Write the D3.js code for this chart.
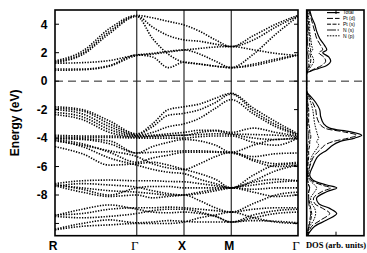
<!DOCTYPE html>
<html><head><meta charset="utf-8">
<script src="https://cdn.jsdelivr.net/npm/d3@7"></script>
<style>body{margin:0;background:#fff}svg{display:block}</style>
</head><body><svg id="c" width="367" height="253"></svg>
<script>
// ---- data ----
const kLabels = ["R", "Γ", "X", "M", "Γ"];
const kNodes = [0, 1.732, 2.732, 3.732, 5.146];
const kGrid = [0, 0.577, 1.155, 1.732, 2.065, 2.399, 2.732, 3.065, 3.399, 3.732, 4.203, 4.675, 5.146];
const energyTicks = [4, 2, 0, -2, -4, -6, -8];

const conductionBands = [
  [1.42, 2.1, 3.7, 4.62, 4.45, 4.2, 3.95, 3.5, 2.9, 2.43, 3.2, 4.0, 4.62],
  [1.36, 1.95, 3.5, 4.58, 3.8, 3.2, 2.9, 2.8, 2.6, 2.43, 2.9, 3.8, 4.58],
  [1.3, 1.85, 3.35, 4.55, 3.0, 1.9, 1.33, 1.2, 1.05, 0.95, 1.9, 3.3, 4.55],
  [1.26, 1.3, 1.45, 1.84, 1.95, 2.1, 2.19, 1.9, 1.4, 0.95, 1.2, 1.55, 1.84],
  [0.86, 0.85, 1.1, 1.84, 1.7, 0.95, 1.33, 1.2, 1.05, 0.95, 1.1, 1.45, 1.84],
  [0.76, 0.8, 1.05, 1.8, 1.9, 2.05, 2.19, 2.3, 2.4, 2.43, 2.2, 1.95, 1.8]
];
const valenceBands = [
  [-1.8, -2.0, -2.8, -3.7, -3.0, -2.0, -1.8, -1.6, -1.2, -0.85, -1.9, -2.85, -3.7],
  [-1.9, -2.1, -3.0, -3.75, -3.2, -2.4, -2.26, -2.0, -1.5, -0.9, -2.1, -3.05, -3.75],
  [-2.0, -2.3, -3.2, -3.8, -3.6, -3.2, -3.0, -2.6, -1.9, -1.3, -2.3, -3.2, -3.8],
  [-2.2, -2.5, -3.4, -3.85, -3.8, -3.7, -3.6, -3.45, -3.45, -3.6, -3.3, -3.6, -3.85],
  [-2.35, -2.7, -3.6, -3.9, -3.85, -3.8, -3.8, -3.6, -3.5, -3.7, -3.75, -3.8, -3.9],
  [-3.8, -3.85, -3.85, -3.95, -3.9, -3.85, -3.8, -3.75, -3.7, -3.75, -4.0, -4.1, -3.95],
  [-3.9, -3.95, -3.95, -4.0, -4.0, -4.0, -4.0, -3.9, -3.85, -3.85, -4.3, -4.5, -4.0],
  [-4.0, -4.05, -4.2, -5.05, -4.6, -4.3, -4.1, -4.2, -4.5, -5.0, -4.5, -4.1, -4.05],
  [-4.05, -4.1, -4.4, -5.05, -5.0, -4.95, -4.9, -4.9, -4.95, -5.0, -5.3, -5.1, -5.05],
  [-4.1, -4.4, -5.0, -5.7, -5.4, -5.2, -5.0, -5.0, -5.0, -5.05, -5.5, -5.8, -5.7],
  [-4.6, -5.1, -5.9, -5.8, -5.7, -5.9, -6.2, -6.5, -6.9, -7.5, -6.6, -5.9, -5.8],
  [-4.15, -4.6, -5.4, -5.9, -6.2, -6.4, -6.5, -6.9, -7.2, -7.5, -7.0, -6.3, -5.9],
  [-4.2, -4.5, -4.9, -5.3, -5.8, -6.1, -6.2, -5.8, -5.3, -5.0, -5.6, -6.0, -5.9],
  [-7.2, -7.0, -6.95, -7.0, -7.0, -7.05, -7.07, -7.2, -7.35, -7.5, -7.1, -6.9, -7.0],
  [-7.25, -7.6, -8.0, -7.5, -7.4, -7.4, -7.5, -7.5, -7.5, -7.5, -7.6, -7.5, -7.5],
  [-7.3, -7.5, -7.7, -7.8, -7.9, -8.0, -8.0, -8.4, -8.9, -9.2, -8.6, -8.0, -7.8],
  [-7.35, -7.8, -8.1, -8.0, -8.2, -8.1, -8.0, -7.8, -7.6, -7.5, -7.8, -8.1, -8.0],
  [-7.4, -7.2, -7.3, -7.45, -7.7, -7.9, -8.0, -7.9, -7.7, -7.5, -7.3, -7.1, -7.0],
  [-9.4, -9.3, -9.0, -8.9, -8.9, -8.85, -8.9, -9.0, -9.1, -9.2, -9.0, -8.9, -8.9],
  [-9.45, -9.0, -8.7, -9.0, -9.2, -9.25, -9.2, -9.3, -9.5, -9.9, -9.4, -9.1, -9.0],
  [-9.5, -9.6, -9.5, -9.3, -9.1, -9.0, -9.0, -9.2, -9.5, -9.9, -9.6, -9.3, -9.2],
  [-10.4, -10.0, -9.75, -9.95, -9.9, -9.8, -9.85, -9.9, -9.9, -9.9, -9.8, -9.85, -9.95],
  [-10.45, -10.2, -10.1, -10.0, -10.0, -10.0, -9.9, -9.6, -9.4, -9.2, -9.6, -9.9, -10.0]
];

const dosE = [5, 4.5, 4, 3.5, 3, 2.5, 2.2, 2, 1.7, 1.4, 1.1, 0.9, 0.7, 0.55, -0.75, -1, -1.5, -2, -2.5, -3, -3.3, -3.55, -3.8, -4, -4.25, -4.5, -4.85, -5.3, -6, -6.6, -6.95, -7.3, -7.5, -7.77, -8.2, -8.6, -8.94, -9.3, -9.76, -10.2, -10.6, -10.85];
const dosTotal = [3, 5, 8, 10, 13, 18, 20, 16, 22, 24, 20, 12, 4, 0, 0, 3, 9, 13, 14, 17, 23, 43, 55, 48, 33, 26, 20, 11, 6, 3, 6, 20, 30, 20, 10, 12, 23, 30, 20, 8, 3, 1];
const dosPtD = [2, 4, 6, 8, 10, 14, 16, 12, 17, 19, 15, 9, 3, 0, 0, 2, 6, 9, 10, 13, 18, 36, 50, 42, 26, 18, 13, 7, 3, 1, 4, 15, 24, 15, 7, 8, 16, 23, 14, 5, 2, 1];
const dosPtS = [1, 1, 2, 2, 3, 3, 4, 3, 4, 4, 3, 2, 1, 0, 0, 1, 1, 2, 2, 2, 3, 3, 4, 4, 3, 3, 2, 2, 1, 1, 1, 2, 3, 2, 2, 3, 4, 5, 4, 2, 1, 0];
const dosNS = [0, 1, 1, 1, 1, 1, 2, 1, 2, 2, 2, 1, 0, 0, 0, 0, 1, 1, 1, 1, 1, 2, 2, 2, 2, 1, 1, 1, 1, 1, 1, 2, 3, 2, 2, 2, 3, 4, 3, 2, 1, 0];
const dosNP = [1, 2, 3, 3, 4, 5, 6, 4, 6, 7, 5, 3, 1, 0, 0, 1, 4, 6, 7, 8, 9, 10, 11, 12, 10, 12, 9, 5, 3, 2, 3, 8, 10, 8, 4, 5, 8, 9, 7, 3, 1, 0];
const dosNames = ["Total", "Pt (d)", "Pt (s)", "N (s)", "N (p)"];

// ---- layout ----
const svg = d3.select("#c");
const P = {l: 55, r: 298, t: 10, b: 235.7};
const D = {l: 306.7, r: 364};
const x = d3.scaleLinear().domain([kNodes[0], kNodes[4]]).range([P.l, P.r]);
const y = d3.scaleLinear().domain([-10.86, 5]).range([P.b, P.t]);
const xd = d3.scaleLinear().domain([0, 57.3]).range([D.l, D.r]);

const defs = svg.append("defs");
defs.append("clipPath").attr("id", "cp").append("rect")
  .attr("x", P.l).attr("y", P.t).attr("width", P.r - P.l).attr("height", P.b - P.t);
defs.append("clipPath").attr("id", "cd").append("rect")
  .attr("x", D.l).attr("y", P.t).attr("width", D.r - D.l).attr("height", P.b - P.t);

// bands
const band = d3.line().x((d, i) => x(kGrid[i])).y(d => y(d)).curve(d3.curveMonotoneX);
const gb = svg.append("g").attr("clip-path", "url(#cp)");
gb.selectAll("path.b").data(conductionBands.concat(valenceBands)).join("path")
  .attr("d", band).attr("fill", "none").attr("stroke", "#000")
  .attr("stroke-width", 1.6).attr("stroke-dasharray", "1.3 1.4");

// high-symmetry lines
svg.selectAll("line.k").data(kNodes.slice(1, 4)).join("line")
  .attr("x1", d => x(d)).attr("x2", d => x(d)).attr("y1", P.t).attr("y2", P.b)
  .attr("stroke", "#000").attr("stroke-width", 1);

// Fermi level
svg.append("line").attr("x1", P.l).attr("x2", D.r).attr("y1", y(0)).attr("y2", y(0))
  .attr("stroke", "#222").attr("stroke-width", 1).attr("stroke-dasharray", "8 5");

// frames
svg.append("rect").attr("x", P.l).attr("y", P.t).attr("width", P.r - P.l).attr("height", P.b - P.t)
  .attr("fill", "none").attr("stroke", "#000").attr("stroke-width", 1.6);
svg.append("rect").attr("x", D.l).attr("y", P.t).attr("width", D.r - D.l).attr("height", P.b - P.t)
  .attr("fill", "none").attr("stroke", "#000").attr("stroke-width", 1.6);

// y axis ticks (inward) and labels
const tickVals = [4, 2, 0, -2, -4, -6, -8, -10];
svg.selectAll("line.tl").data(tickVals).join("line")
  .attr("x1", P.l).attr("x2", P.l + 4).attr("y1", d => y(d)).attr("y2", d => y(d))
  .attr("stroke", "#000").attr("stroke-width", 1);
svg.selectAll("line.tr").data(tickVals).join("line")
  .attr("x1", P.r - 4).attr("x2", P.r).attr("y1", d => y(d)).attr("y2", d => y(d))
  .attr("stroke", "#000").attr("stroke-width", 1);
svg.selectAll("text.yl").data(energyTicks).join("text")
  .attr("x", 47.5).attr("y", d => y(d)).attr("dy", "0.36em").attr("text-anchor", "end")
  .attr("font-family", "Liberation Sans, Arial, sans-serif").attr("font-weight", "bold")
  .attr("font-size", 12).text(d => d);
svg.append("text").attr("transform", `translate(19,${(P.t + P.b) / 2}) rotate(-90)`)
  .attr("text-anchor", "middle").attr("font-family", "Liberation Sans, Arial, sans-serif")
  .attr("font-weight", "bold").attr("font-size", 12).text("Energy (eV)");

// k labels
svg.selectAll("text.kl").data(kNodes).join("text")
  .attr("x", (d, i) => x(d) - 2).attr("y", 250).attr("text-anchor", "middle")
  .attr("font-family", (d, i) => kLabels[i] === "Γ" ? "Liberation Serif, Times New Roman, serif" : "Liberation Sans, Arial, sans-serif")
  .attr("font-weight", (d, i) => kLabels[i] === "Γ" ? "normal" : "bold")
  .attr("font-size", (d, i) => kLabels[i] === "Γ" ? 13 : 12)
  .text((d, i) => kLabels[i]);

// DOS
const dosSeries = [dosTotal, dosPtD, dosPtS, dosNS, dosNP];
const dosDash = [null, "6 2", "4 1.5", "9 1.5 1.5 1.5", "1.6 1.2"];
const dosWidth = [1.2, 1, 1, 0.9, 1];
const dl = d3.line().x(d => xd(d[1])).y(d => y(d[0])).curve(d3.curveCatmullRom.alpha(0.5));
const gd = svg.append("g").attr("clip-path", "url(#cd)");
dosSeries.forEach((s, j) => {
  gd.append("path").attr("d", dl(dosE.map((e, i) => [e, s[i]])))
    .attr("fill", "none").attr("stroke", "#000").attr("stroke-width", dosWidth[j])
    .attr("stroke-dasharray", dosDash[j]);
});
// DOS ticks
svg.append("line").attr("x1", 336).attr("x2", 336).attr("y1", P.t).attr("y2", P.t + 4).attr("stroke", "#000");
svg.append("line").attr("x1", 336).attr("x2", 336).attr("y1", P.b - 4).attr("y2", P.b).attr("stroke", "#000");

// legend
const lg = svg.append("g");
dosNames.forEach((n, j) => {
  const yy = 12.6 + j * 5.8;
  lg.append("line").attr("x1", 327).attr("x2", 339.5).attr("y1", yy).attr("y2", yy)
    .attr("stroke", "#000").attr("stroke-width", dosWidth[j]).attr("stroke-dasharray", dosDash[j]);
  lg.append("text").attr("x", 343).attr("y", yy).attr("dy", "0.35em")
    .attr("font-family", "Liberation Sans, Arial, sans-serif").attr("font-size", 5).text(n);
});

svg.append("text").attr("x", 336).attr("y", 248).attr("text-anchor", "middle")
  .attr("font-family", "Liberation Serif, Times New Roman, serif").attr("font-weight", "bold")
  .attr("font-size", 8.5).text("DOS (arb. units)");
</script>
</body></html>
